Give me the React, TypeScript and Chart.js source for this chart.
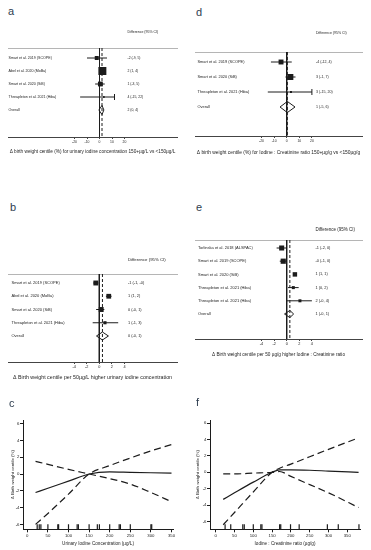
import React, { useEffect, useRef } from "react";
import { Chart, registerables } from "chart.js";
Chart.register(...registerables);

const FONT = "'Liberation Sans', Arial, Helvetica, sans-serif";
const INK = "#1c1c1c";
const LETTER = "#2e3d4f";

// ---------------- Panel a ----------------
const aStudies = ["Smart et al. 2019 (SCOPE)", "Abel et al. 2020 (MoBa)", "Smart et al. 2020 (SiB)", "Threapleton et al. 2021 (Hiba)"];
const aEst = [-2.2, 2.3, 0.7, 3.5];
const aLow = [-10, 1, -3.5, -15.5];
const aHigh = [6, 3.6, 4.2, 12];
const aWeights = [15, 60, 22, 3];
const aLabels = ["-2 (-9, 5)", "2 (1, 4)", "1 (-3, 5)", "4 (-15, 22)"];
const aCapped = [false, false, false, true];
const aOverall = [2, -0.5, 3.5];
const aOverallLabel = "2 (0, 4)";
const aTicks = [-20, -10, 0, 10, 20];
const aAxisTitle = "Δ birth weight centile (%) for urinary iodine concentration 150+µg/L vs <150µg/L";

// ---------------- Panel d ----------------
const dStudies = ["Smart et al. 2019 (SCOPE)", "Smart et al. 2020 (SiB)", "Threapleton et al. 2021 (Hiba)"];
const dEst = [-4.5, 2.9, 3.4];
const dLow = [-12.5, -1, -15];
const dHigh = [4, 7, 20];
const dWeights = [38, 56, 6];
const dLabels = ["-4 (-12, 4)", "3 (-1, 7)", "3 (-15, 20)"];
const dCapped = [false, false, true];
const dOverall = [0.5, -5.3, 6.6];
const dOverallLabel = "1 (-5, 6)";
const dTicks = [-20, -10, 0, 10, 20];
const dAxisTitle = "Δ birth weight centile (%) for Iodine : Creatinine ratio 150+µg/g vs <150µg/g";

// ---------------- Panel b ----------------
const bStudies = ["Smart et al. 2019 (SCOPE)", "Abel et al. 2020 (MoBa)", "Smart et al. 2020 (SiB)", "Threapleton et al. 2021 (Hiba)"];
const bEst = [-0.55, 1.5, 0.3, 0.9];
const bLow = [-0.95, 1.05, -0.5, -1.05];
const bHigh = [-0.15, 1.95, 0.8, 3.0];
const bWeights = [30, 28, 30, 12];
const bLabels = ["-1 (-1, -0)", "1 (1, 2)", "0 (-0, 1)", "1 (-1, 3)"];
const bCapped = [false, false, false, false];
const bOverall = [0.5, -0.45, 1.45];
const bOverallLabel = "0 (-0, 1)";
const bTicks = [-4, -2, 0, 2, 4];
const bAxisTitle = "Δ Birth weight centile per 50µg/L higher urinary iodine concentration";

// ---------------- Panel e ----------------
const eStudies = ["Torlinska et al. 2018 (ALSPAC)", "Smart et al. 2019 (SCOPE)", "Smart et al. 2020 (SiB)", "Threapleton et al. 2021 (Hiba)", "Threapleton et al. 2021 (Hiba)"];
const eEst = [-0.8, -0.55, 1.3, 1.05, 2.1];
const eLow = [-1.6, -1.1, 1.05, 0.2, 0.05];
const eHigh = [0.05, 0.05, 1.55, 1.9, 4.0];
const eWeights = [28, 30, 22, 10, 10];
const eLabels = ["-1 (-2, 0)", "-0 (-1, 0)", "1 (1, 1)", "1 (0, 2)", "2 (-0, 4)"];
const eCapped = [false, false, false, false, false];
const eOverall = [0.5, -0.35, 1.1];
const eOverallLabel = "1 (-0, 1)";
const eTicks = [-4, -2, 0, 2, 4];
const eAxisTitle = "Δ Birth weight centile per 50 µg/g higher Iodine : Creatinine ratio";

// ---------------- Panel c ----------------
const cX = [20, 50, 100, 150, 200, 250, 300, 350];
const cFit = [-2.2, -1.7, -0.85, 0, 0.25, 0.2, 0.15, 0.1];
const cCiA = [1.5, 1.15, 0.55, 0, -0.55, -1.2, -2.2, -3.3];
const cCiB = [-6, -4.7, -2.4, 0, 1.0, 1.9, 2.75, 3.5];
const cRug = [24, 29, 33, 50, 74, 76, 100, 121, 124, 150, 170, 175, 200, 223, 226, 250, 300, 302];
const cXTicks = [0, 50, 100, 150, 200, 250, 300, 350];
const cYTicks = [-6, -4, -2, 0, 2, 4, 6];
const cXTitle = "Urinary Iodine Concentration (µg/L)";

// ---------------- Panel f ----------------
const fX = [20, 50, 100, 150, 170, 200, 250, 300, 380];
const fFit = [-3.3, -2.5, -1.2, 0, 0.3, 0.3, 0.25, 0.15, 0];
const fCiA = [-0.2, -0.2, -0.1, 0, 0.1, -0.5, -1.5, -2.5, -4.3];
const fCiB = [-6.4, -4.9, -2.4, 0, 0.5, 1.0, 1.9, 2.8, 4.2];
const fRug = [25, 40, 72, 76, 100, 120, 123, 170, 173, 199, 222, 297, 326, 381];
const fXTicks = [0, 50, 100, 150, 200, 250, 300, 350];
const fYTicks = [-6, -4, -2, 0, 2, 4, 6];
const fXTitle = "Iodine : Creatinine ratio (µg/g)";

const yTitle = "Δ Birth weight centile (%)";

type ForestSpec = {
  studies: string[]; est: number[]; low: number[]; high: number[]; weights: number[];
  labels: string[]; capped: boolean[]; overall: number[]; overallLabel: string; ticks: number[]; axisTitle: string;
};
type ForestLayout = {
  left0: number; top: number; width: number; height: number;
  topLine: number; axisY: number; row0: number; rowStep: number; headerY: number;
  textX: number; nameX: number; left: number; right: number; zeroPx: number; ppu: number;
  nameSize: number; numSize: number; headerSize: number; tickSize: number; titleSize: number; titleY: number;
  boxScale: number; diamond: number;
};

function forestConfig(spec: ForestSpec, lay: ForestLayout): any {
  const n = spec.studies.length;
  const bottom = lay.top + lay.height;
  const yMin = (lay.topLine - lay.row0) / lay.rowStep;
  const yMax = (lay.axisY - lay.row0) / lay.rowStep;
  const xMin = (lay.left - lay.zeroPx) / lay.ppu;
  const xMax = (lay.right - lay.zeroPx) / lay.ppu;
  const datasets: any[] = [];
  datasets.push({ type: "line", data: [{ x: 0, y: yMin }, { x: 0, y: yMax }], borderColor: INK, borderWidth: 1, pointRadius: 0 });
  datasets.push({ type: "line", data: [{ x: spec.overall[0], y: yMin }, { x: spec.overall[0], y: yMax }], borderColor: INK, borderWidth: 1, borderDash: [3, 2], pointRadius: 0 });
  spec.studies.forEach((_, i) => {
    datasets.push({ type: "line", data: [{ x: spec.low[i], y: i }, { x: spec.high[i], y: i }], borderColor: INK, borderWidth: 1, pointRadius: 0 });
  });
  datasets.push({
    type: "scatter", data: spec.est.map((x, i) => ({ x, y: i })), pointStyle: "rect",
    pointRadius: spec.weights.map((w) => (Math.sqrt(w) * lay.boxScale) / Math.SQRT2),
    backgroundColor: INK, borderColor: INK, borderWidth: 0,
  });
  datasets.push({
    type: "scatter", data: spec.high.map((x, i) => ({ x, y: i })).filter((_, i) => spec.capped[i]),
    pointStyle: "line", rotation: 90, pointRadius: 3, borderColor: INK, borderWidth: 1,
  });
  const [oe, ol, oh] = spec.overall;
  datasets.push({
    type: "line",
    data: [{ x: ol, y: n }, { x: oe, y: n - lay.diamond }, { x: oh, y: n }, { x: oe, y: n + lay.diamond }, { x: ol, y: n }],
    borderColor: INK, borderWidth: 1, pointRadius: 0, fill: false, tension: 0,
  });
  const titleLH = lay.titleSize * 1.2;
  const textPlugin = {
    id: "forestText",
    afterDraw(chart: any) {
      const ctx = chart.ctx;
      const ys = chart.scales.y;
      ctx.save();
      ctx.fillStyle = INK;
      ctx.textBaseline = "middle";
      ctx.textAlign = "left";
      ctx.font = `${lay.headerSize}px ${FONT}`;
      ctx.fillText("Difference (95% CI)", lay.textX, lay.headerY - lay.top);
      ctx.font = `${lay.nameSize}px ${FONT}`;
      spec.studies.forEach((s, i) => ctx.fillText(s, lay.nameX, ys.getPixelForValue(i)));
      ctx.fillText("Overall", lay.nameX, ys.getPixelForValue(n));
      ctx.font = `${lay.numSize}px ${FONT}`;
      spec.labels.forEach((s, i) => ctx.fillText(s, lay.textX, ys.getPixelForValue(i)));
      ctx.fillText(spec.overallLabel, lay.textX, ys.getPixelForValue(n));
      ctx.restore();
    },
  };
  return {
    type: "scatter",
    data: { datasets },
    options: {
      animation: false, responsive: false, devicePixelRatio: 1,
      layout: { padding: { left: lay.left, right: lay.width - lay.right, top: lay.topLine - lay.top, bottom: 0 } },
      plugins: { legend: { display: false }, tooltip: { enabled: false } },
      scales: {
        x: {
          type: "linear", position: "bottom", min: xMin, max: xMax,
          afterBuildTicks: (s: any) => { s.ticks = spec.ticks.map((v) => ({ value: v })); },
          afterFit: (s: any) => { s.height = bottom - lay.axisY; },
          border: { color: "#444", width: 1 },
          grid: { drawOnChartArea: false, drawTicks: true, tickLength: 2, color: "#444" },
          ticks: { font: { size: lay.tickSize, family: FONT }, color: INK, padding: 1, maxRotation: 0, autoSkip: false },
          title: {
            display: true, text: spec.axisTitle, color: INK, font: { size: lay.titleSize, family: FONT },
            padding: { top: 0, bottom: bottom - lay.titleY - titleLH / 2 },
          },
        },
        x2: {
          type: "linear", position: "top", min: xMin, max: xMax,
          afterFit: (s: any) => { s.height = 0; },
          grid: { display: false }, ticks: { display: false },
          border: { color: "#b5b5b5", width: 1 },
        },
        y: { type: "linear", display: false, reverse: true, min: yMin, max: yMax },
      },
    },
    plugins: [textPlugin],
  };
}

type CurveSpec = { x: number[]; fit: number[]; ciA: number[]; ciB: number[]; rug: number[]; xTicks: number[]; yTicks: number[]; xTitle: string };
type CurveLayout = {
  left0: number; top: number; width: number; height: number;
  axisX: number; right: number; plotTop: number; axisY: number;
  zeroPx: number; ppu: number; zeroPy: number; ppuY: number; yTitleX: number;
};

function curveConfig(spec: CurveSpec, lay: CurveLayout): any {
  const bottom = lay.top + lay.height;
  const xMin = (lay.axisX - lay.zeroPx) / lay.ppu;
  const xMax = (lay.right - lay.zeroPx) / lay.ppu;
  const yMax = (lay.zeroPy - lay.plotTop) / lay.ppuY;
  const yMin = (lay.zeroPy - lay.axisY) / lay.ppuY;
  const rugY = yMin + (yMax - yMin) * 0.024;
  const yTitleSize = 4.4;
  const line = (ys: number[], dash: number[] | undefined) => ({
    type: "line", data: spec.x.map((x, i) => ({ x, y: ys[i] })), borderColor: INK, borderWidth: 1.2,
    borderDash: dash, pointRadius: 0, cubicInterpolationMode: "monotone",
  });
  return {
    type: "scatter",
    data: {
      datasets: [
        line(spec.fit, undefined),
        line(spec.ciA, [7, 4]),
        line(spec.ciB, [7, 4]),
        { type: "scatter", data: spec.rug.map((x) => ({ x, y: rugY })), pointStyle: "line", rotation: 90, pointRadius: 2.5, borderColor: INK, borderWidth: 1.2 },
      ],
    },
    options: {
      animation: false, responsive: false, devicePixelRatio: 1,
      layout: { padding: { left: 0, right: lay.left0 + lay.width - lay.right, top: lay.plotTop - lay.top, bottom: 0 } },
      plugins: { legend: { display: false }, tooltip: { enabled: false } },
      scales: {
        x: {
          type: "linear", min: xMin, max: xMax,
          afterBuildTicks: (s: any) => { s.ticks = spec.xTicks.map((v) => ({ value: v })); },
          afterFit: (s: any) => { s.height = bottom - lay.axisY; },
          border: { color: INK, width: 1 },
          grid: { drawOnChartArea: false, tickLength: 3, color: INK },
          ticks: { font: { size: 4.3, family: FONT }, color: INK, padding: 1, maxRotation: 0, autoSkip: false },
          title: { display: true, text: spec.xTitle, color: INK, font: { size: 4.6, family: FONT }, padding: { top: 0, bottom: 3.5 } },
        },
        y: {
          type: "linear", min: yMin, max: yMax,
          afterBuildTicks: (s: any) => { s.ticks = spec.yTicks.map((v) => ({ value: v })); },
          afterFit: (s: any) => { s.width = lay.axisX - lay.left0; },
          border: { color: INK, width: 1 },
          grid: { drawOnChartArea: false, tickLength: 3, color: INK },
          ticks: { font: { size: 4.3, family: FONT }, color: INK, padding: 0.5, autoSkip: false },
          title: {
            display: true, text: yTitle, color: INK, font: { size: yTitleSize, family: FONT },
            padding: { top: lay.yTitleX - lay.left0 - (yTitleSize * 1.2) / 2, bottom: 0 },
          },
        },
      },
    },
  };
}

function ChartCanvas(props: { left: number; top: number; width: number; height: number; make: () => any }) {
  const ref = useRef<HTMLCanvasElement | null>(null);
  useEffect(() => {
    const ch = new Chart(ref.current as HTMLCanvasElement, props.make());
    return () => ch.destroy();
  }, []);
  return (
    <canvas
      ref={ref}
      width={props.width}
      height={props.height}
      style={{ position: "absolute", left: props.left, top: props.top, width: props.width, height: props.height, display: "block" }}
    />
  );
}

const layA: ForestLayout = {
  left0: 0, top: 18, width: 185, height: 142, topLine: 48, axisY: 137, row0: 58, rowStep: 13, headerY: 32,
  textX: 127.5, nameX: 8.5, left: 8, right: 177, zeroPx: 99.5, ppu: 1.25,
  nameSize: 3.6, numSize: 3.4, headerSize: 3.5, tickSize: 3.4, titleSize: 4.7, titleY: 152, boxScale: 1.03, diamond: 0.35,
};
const layD: ForestLayout = {
  left0: 185, top: 18, width: 186, height: 142, topLine: 52, axisY: 136, row0: 62, rowStep: 15, headerY: 33,
  textX: 131, nameX: 12.5, left: 10, right: 177, zeroPx: 101.7, ppu: 1.26,
  nameSize: 3.9, numSize: 3.6, headerSize: 3.5, tickSize: 3.4, titleSize: 4.9, titleY: 153, boxScale: 0.8, diamond: 0.37,
};
const layB: ForestLayout = {
  left0: 0, top: 245, width: 185, height: 142, topLine: 274, axisY: 362, row0: 283, rowStep: 13.25, headerY: 260,
  textX: 128, nameX: 11.5, left: 8, right: 177, zeroPx: 99.3, ppu: 6.3,
  nameSize: 4.0, numSize: 3.9, headerSize: 4.3, tickSize: 3.8, titleSize: 5.3, titleY: 378, boxScale: 0.9, diamond: 0.3,
};
const layE: ForestLayout = {
  left0: 185, top: 215, width: 186, height: 150, topLine: 240, axisY: 339, row0: 248, rowStep: 13.2, headerY: 230,
  textX: 130.5, nameX: 13, left: 10, right: 177, zeroPx: 101.7, ppu: 6.3,
  nameSize: 4.0, numSize: 3.9, headerSize: 4.5, tickSize: 3.8, titleSize: 4.7, titleY: 355, boxScale: 0.95, diamond: 0.27,
};
const layC: CurveLayout = {
  left0: 0, top: 390, width: 185, height: 160, axisX: 23, right: 173, plotTop: 420, axisY: 529.3,
  zeroPx: 27.3, ppu: 0.412, zeroPy: 474, ppuY: 8.4, yTitleX: 12.5,
};
const layF: CurveLayout = {
  left0: 185, top: 390, width: 186, height: 160, axisX: 210, right: 360, plotTop: 420, axisY: 529.3,
  zeroPx: 215.7, ppu: 0.376, zeroPy: 472.3, ppuY: 8.2, yTitleX: 198,
};

const specA: ForestSpec = { studies: aStudies, est: aEst, low: aLow, high: aHigh, weights: aWeights, labels: aLabels, capped: aCapped, overall: aOverall, overallLabel: aOverallLabel, ticks: aTicks, axisTitle: aAxisTitle };
const specD: ForestSpec = { studies: dStudies, est: dEst, low: dLow, high: dHigh, weights: dWeights, labels: dLabels, capped: dCapped, overall: dOverall, overallLabel: dOverallLabel, ticks: dTicks, axisTitle: dAxisTitle };
const specB: ForestSpec = { studies: bStudies, est: bEst, low: bLow, high: bHigh, weights: bWeights, labels: bLabels, capped: bCapped, overall: bOverall, overallLabel: bOverallLabel, ticks: bTicks, axisTitle: bAxisTitle };
const specE: ForestSpec = { studies: eStudies, est: eEst, low: eLow, high: eHigh, weights: eWeights, labels: eLabels, capped: eCapped, overall: eOverall, overallLabel: eOverallLabel, ticks: eTicks, axisTitle: eAxisTitle };
const specC: CurveSpec = { x: cX, fit: cFit, ciA: cCiA, ciB: cCiB, rug: cRug, xTicks: cXTicks, yTicks: cYTicks, xTitle: cXTitle };
const specF: CurveSpec = { x: fX, fit: fFit, ciA: fCiA, ciB: fCiB, rug: fRug, xTicks: fXTicks, yTicks: fYTicks, xTitle: fXTitle };

function Letter(props: { text: string; left: number; top: number }) {
  return (
    <div style={{ position: "absolute", left: props.left, top: props.top, fontFamily: FONT, fontSize: 11, lineHeight: "11px", color: LETTER }}>
      {props.text}
    </div>
  );
}

export default function App() {
  const forest = (lay: ForestLayout, spec: ForestSpec) => (
    <ChartCanvas left={lay.left0} top={lay.top} width={lay.width} height={lay.height} make={() => forestConfig(spec, lay)} />
  );
  const curve = (lay: CurveLayout, spec: CurveSpec) => (
    <ChartCanvas left={lay.left0} top={lay.top} width={lay.width} height={lay.height} make={() => curveConfig(spec, lay)} />
  );
  return (
    <div style={{ position: "absolute", left: 0, top: 0, width: 371, height: 550, background: "#fff", overflow: "hidden" }}>
      {forest(layA, specA)}
      {forest(layD, specD)}
      {forest(layB, specB)}
      {forest(layE, specE)}
      {curve(layC, specC)}
      {curve(layF, specF)}
      <Letter text="a" left={8} top={6} />
      <Letter text="d" left={196} top={7} />
      <Letter text="b" left={10} top={202} />
      <Letter text="e" left={196} top={202} />
      <Letter text="c" left={9} top={398} />
      <Letter text="f" left={196} top={397} />
    </div>
  );
}
